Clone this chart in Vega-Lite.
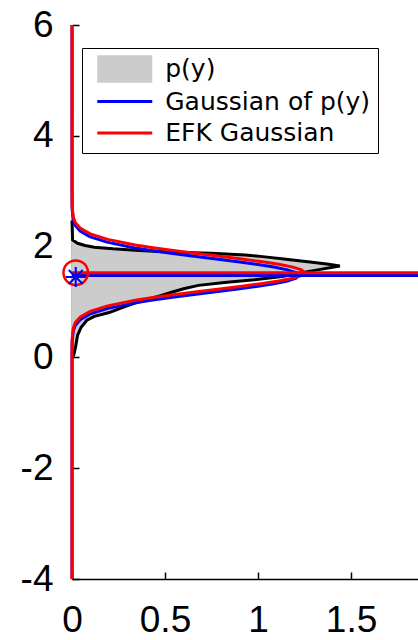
{
  "$schema": "https://vega.github.io/schema/vega-lite/v6.json",
  "width": 346,
  "height": 554,
  "autosize": {"type": "none"},
  "padding": {"left": 72, "top": 25, "right": 0, "bottom": 61},
  "background": "white",
  "config": {
    "view": {"stroke": null},
    "axis": {
      "grid": false,
      "title": null,
      "labelFont": "Liberation Sans",
      "labelFontSize": 37,
      "labelColor": "black",
      "labelFlush": false,
      "labelOverlap": false,
      "domainColor": "black",
      "domainWidth": 1.5,
      "tickColor": "black",
      "tickWidth": 1.5,
      "tickSize": -7
    },
    "legend": {
      "orient": "none",
      "legendX": 10,
      "legendY": 23,
      "direction": "vertical",
      "padding": 7,
      "strokeColor": "black",
      "fillColor": "white",
      "symbolSize": 756,
      "symbolOffset": 21.75,
      "labelOffset": 26.5,
      "rowPadding": 4.5,
      "labelFont": "DejaVu Sans",
      "labelFontSize": 25,
      "labelColor": "black",
      "labelLimit": 400,
      "symbolOpacity": 1,
      "symbolStrokeWidth": 0
    }
  },
  "datasets": {
    "curves": [
      {"s": "p(y)", "y": -0.02, "x": 0},
      {"s": "p(y)", "y": 0.05, "x": 0.01},
      {"s": "p(y)", "y": 0.2, "x": 0.02},
      {"s": "p(y)", "y": 0.4, "x": 0.03},
      {"s": "p(y)", "y": 0.55, "x": 0.05},
      {"s": "p(y)", "y": 0.67, "x": 0.08},
      {"s": "p(y)", "y": 0.74, "x": 0.12},
      {"s": "p(y)", "y": 0.81, "x": 0.2},
      {"s": "p(y)", "y": 0.9, "x": 0.27},
      {"s": "p(y)", "y": 0.97, "x": 0.33},
      {"s": "p(y)", "y": 1.05, "x": 0.41},
      {"s": "p(y)", "y": 1.12, "x": 0.48},
      {"s": "p(y)", "y": 1.18, "x": 0.54},
      {"s": "p(y)", "y": 1.24, "x": 0.6},
      {"s": "p(y)", "y": 1.3, "x": 0.68},
      {"s": "p(y)", "y": 1.35, "x": 0.82},
      {"s": "p(y)", "y": 1.4, "x": 0.98},
      {"s": "p(y)", "y": 1.46, "x": 1.13},
      {"s": "p(y)", "y": 1.52, "x": 1.22},
      {"s": "p(y)", "y": 1.58, "x": 1.32},
      {"s": "p(y)", "y": 1.65, "x": 1.44},
      {"s": "p(y)", "y": 1.68, "x": 1.38},
      {"s": "p(y)", "y": 1.72, "x": 1.28},
      {"s": "p(y)", "y": 1.77, "x": 1.15},
      {"s": "p(y)", "y": 1.81, "x": 1.05},
      {"s": "p(y)", "y": 1.85, "x": 0.93},
      {"s": "p(y)", "y": 1.88, "x": 0.75},
      {"s": "p(y)", "y": 1.9, "x": 0.55},
      {"s": "p(y)", "y": 1.93, "x": 0.36},
      {"s": "p(y)", "y": 1.96, "x": 0.22},
      {"s": "p(y)", "y": 1.99, "x": 0.12},
      {"s": "p(y)", "y": 2.02, "x": 0.07},
      {"s": "p(y)", "y": 2.06, "x": 0.03},
      {"s": "p(y)", "y": 2.12, "x": 0.003},
      {"s": "p(y)", "y": 2.47, "x": 0},

      {"s": "Gaussian of p(y)", "y": -4.0, "x": 0},
      {"s": "Gaussian of p(y)", "y": -0.02, "x": 0},
      {"s": "Gaussian of p(y)", "y": 0.28, "x": 0.0007},
      {"s": "Gaussian of p(y)", "y": 0.48, "x": 0.007},
      {"s": "Gaussian of p(y)", "y": 0.58, "x": 0.018},
      {"s": "Gaussian of p(y)", "y": 0.68, "x": 0.044},
      {"s": "Gaussian of p(y)", "y": 0.78, "x": 0.095},
      {"s": "Gaussian of p(y)", "y": 0.88, "x": 0.188},
      {"s": "Gaussian of p(y)", "y": 0.98, "x": 0.332},
      {"s": "Gaussian of p(y)", "y": 1.03, "x": 0.425},
      {"s": "Gaussian of p(y)", "y": 1.08, "x": 0.531},
      {"s": "Gaussian of p(y)", "y": 1.13, "x": 0.645},
      {"s": "Gaussian of p(y)", "y": 1.18, "x": 0.764},
      {"s": "Gaussian of p(y)", "y": 1.23, "x": 0.881},
      {"s": "Gaussian of p(y)", "y": 1.28, "x": 0.991},
      {"s": "Gaussian of p(y)", "y": 1.33, "x": 1.085},
      {"s": "Gaussian of p(y)", "y": 1.38, "x": 1.158},
      {"s": "Gaussian of p(y)", "y": 1.43, "x": 1.204},
      {"s": "Gaussian of p(y)", "y": 1.48, "x": 1.22},
      {"s": "Gaussian of p(y)", "y": 1.53, "x": 1.204},
      {"s": "Gaussian of p(y)", "y": 1.58, "x": 1.158},
      {"s": "Gaussian of p(y)", "y": 1.63, "x": 1.085},
      {"s": "Gaussian of p(y)", "y": 1.68, "x": 0.991},
      {"s": "Gaussian of p(y)", "y": 1.73, "x": 0.881},
      {"s": "Gaussian of p(y)", "y": 1.78, "x": 0.764},
      {"s": "Gaussian of p(y)", "y": 1.83, "x": 0.645},
      {"s": "Gaussian of p(y)", "y": 1.88, "x": 0.531},
      {"s": "Gaussian of p(y)", "y": 1.93, "x": 0.425},
      {"s": "Gaussian of p(y)", "y": 1.98, "x": 0.332},
      {"s": "Gaussian of p(y)", "y": 2.08, "x": 0.188},
      {"s": "Gaussian of p(y)", "y": 2.18, "x": 0.095},
      {"s": "Gaussian of p(y)", "y": 2.28, "x": 0.044},
      {"s": "Gaussian of p(y)", "y": 2.38, "x": 0.018},
      {"s": "Gaussian of p(y)", "y": 2.48, "x": 0.007},
      {"s": "Gaussian of p(y)", "y": 2.68, "x": 0.0007},
      {"s": "Gaussian of p(y)", "y": 2.98, "x": 0},
      {"s": "Gaussian of p(y)", "y": 6.0, "x": 0},

      {"s": "EFK Gaussian", "y": -4.0, "x": 0},
      {"s": "EFK Gaussian", "y": 0.03, "x": 0},
      {"s": "EFK Gaussian", "y": 0.33, "x": 0.0007},
      {"s": "EFK Gaussian", "y": 0.53, "x": 0.007},
      {"s": "EFK Gaussian", "y": 0.63, "x": 0.018},
      {"s": "EFK Gaussian", "y": 0.73, "x": 0.045},
      {"s": "EFK Gaussian", "y": 0.83, "x": 0.098},
      {"s": "EFK Gaussian", "y": 0.93, "x": 0.192},
      {"s": "EFK Gaussian", "y": 1.03, "x": 0.34},
      {"s": "EFK Gaussian", "y": 1.08, "x": 0.436},
      {"s": "EFK Gaussian", "y": 1.13, "x": 0.544},
      {"s": "EFK Gaussian", "y": 1.18, "x": 0.661},
      {"s": "EFK Gaussian", "y": 1.23, "x": 0.783},
      {"s": "EFK Gaussian", "y": 1.28, "x": 0.903},
      {"s": "EFK Gaussian", "y": 1.33, "x": 1.015},
      {"s": "EFK Gaussian", "y": 1.38, "x": 1.112},
      {"s": "EFK Gaussian", "y": 1.43, "x": 1.187},
      {"s": "EFK Gaussian", "y": 1.48, "x": 1.234},
      {"s": "EFK Gaussian", "y": 1.53, "x": 1.25},
      {"s": "EFK Gaussian", "y": 1.58, "x": 1.234},
      {"s": "EFK Gaussian", "y": 1.63, "x": 1.187},
      {"s": "EFK Gaussian", "y": 1.68, "x": 1.112},
      {"s": "EFK Gaussian", "y": 1.73, "x": 1.015},
      {"s": "EFK Gaussian", "y": 1.78, "x": 0.903},
      {"s": "EFK Gaussian", "y": 1.83, "x": 0.783},
      {"s": "EFK Gaussian", "y": 1.88, "x": 0.661},
      {"s": "EFK Gaussian", "y": 1.93, "x": 0.544},
      {"s": "EFK Gaussian", "y": 1.98, "x": 0.436},
      {"s": "EFK Gaussian", "y": 2.03, "x": 0.34},
      {"s": "EFK Gaussian", "y": 2.13, "x": 0.192},
      {"s": "EFK Gaussian", "y": 2.23, "x": 0.098},
      {"s": "EFK Gaussian", "y": 2.33, "x": 0.045},
      {"s": "EFK Gaussian", "y": 2.43, "x": 0.018},
      {"s": "EFK Gaussian", "y": 2.53, "x": 0.007},
      {"s": "EFK Gaussian", "y": 2.73, "x": 0.0007},
      {"s": "EFK Gaussian", "y": 3.03, "x": 0},
      {"s": "EFK Gaussian", "y": 6.0, "x": 0}
    ],
    "means": [
      {"s": "Gaussian of p(y)", "y": 1.48, "x0": 0, "x1": 2},
      {"s": "EFK Gaussian", "y": 1.53, "x0": 0, "x1": 2}
    ],
    "markers": [
      {"s": "EFK Gaussian", "y": 1.53, "x": 0.02},
      {"s": "Gaussian of p(y)", "y": 1.45, "x": 0.02}
    ]
  },
  "layer": [
    {
      "data": {"name": "curves"},
      "transform": [{"filter": "datum.s === 'p(y)'"}],
      "mark": {"type": "area", "orient": "horizontal", "opacity": 1},
      "encoding": {
        "y": {
          "field": "y",
          "type": "quantitative",
          "scale": {"domain": [-4, 6], "nice": false, "zero": false},
          "axis": {"values": [-4, -2, 0, 2, 4, 6], "labelPadding": 26, "labelExpr": "'' + datum.value"}
        },
        "x": {
          "field": "x",
          "type": "quantitative",
          "scale": {"domain": [0, 1.86], "nice": false},
          "axis": {"values": [0, 0.5, 1, 1.5], "labelPadding": 30, "labelExpr": "'' + datum.value"}
        },
        "color": {
          "field": "s",
          "type": "nominal",
          "title": null,
          "scale": {
            "domain": ["p(y)", "Gaussian of p(y)", "EFK Gaussian"],
            "range": ["#cccccc", "#0000ff", "#ff0000"]
          }
        }
      }
    },
    {
      "data": {"name": "curves"},
      "transform": [{"filter": "datum.s === 'p(y)'"}],
      "mark": {"type": "line", "color": "black", "strokeWidth": 3},
      "encoding": {
        "y": {"field": "y", "type": "quantitative"},
        "x": {"field": "x", "type": "quantitative"},
        "order": {"field": "y", "type": "quantitative"}
      }
    },
    {
      "data": {"name": "curves"},
      "transform": [{"filter": "datum.s === 'Gaussian of p(y)'"}],
      "mark": {"type": "line", "strokeWidth": 3},
      "encoding": {
        "y": {"field": "y", "type": "quantitative"},
        "x": {"field": "x", "type": "quantitative"},
        "order": {"field": "y", "type": "quantitative"},
        "color": {"field": "s", "type": "nominal", "title": null}
      }
    },
    {
      "data": {"name": "curves"},
      "transform": [{"filter": "datum.s === 'EFK Gaussian'"}],
      "mark": {"type": "line", "strokeWidth": 3},
      "encoding": {
        "y": {"field": "y", "type": "quantitative"},
        "x": {"field": "x", "type": "quantitative"},
        "order": {"field": "y", "type": "quantitative"},
        "color": {"field": "s", "type": "nominal", "title": null}
      }
    },
    {
      "data": {"name": "curves"},
      "transform": [{"filter": "false"}],
      "mark": {"type": "point", "filled": true, "opacity": 1},
      "encoding": {
        "y": {"field": "y", "type": "quantitative"},
        "x": {"field": "x", "type": "quantitative"},
        "color": {"field": "s", "type": "nominal", "title": null},
        "shape": {
          "field": "s",
          "type": "nominal",
          "title": null,
          "scale": {
            "domain": ["p(y)", "Gaussian of p(y)", "EFK Gaussian"],
            "range": ["M-2,-1H2V1H-2Z", "M-2,-0.11H2V0.11H-2Z", "M-2,-0.11H2V0.11H-2Z"]
          }
        }
      }
    },
    {
      "data": {"name": "means"},
      "transform": [{"filter": "datum.s === 'Gaussian of p(y)'"}],
      "mark": {"type": "rule", "strokeWidth": 3, "clip": true, "color": "#0000ff"},
      "encoding": {
        "y": {"field": "y", "type": "quantitative"},
        "x": {"field": "x0", "type": "quantitative"},
        "x2": {"field": "x1"}
      }
    },
    {
      "data": {"name": "means"},
      "transform": [{"filter": "datum.s === 'EFK Gaussian'"}],
      "mark": {"type": "rule", "strokeWidth": 3, "clip": true, "color": "#ff0000"},
      "encoding": {
        "y": {"field": "y", "type": "quantitative"},
        "x": {"field": "x0", "type": "quantitative"},
        "x2": {"field": "x1"}
      }
    },
    {
      "data": {"name": "markers"},
      "transform": [{"filter": "datum.s === 'EFK Gaussian'"}],
      "mark": {"type": "point", "shape": "circle", "filled": false, "size": 600, "strokeWidth": 2.5, "opacity": 1, "color": "#ff0000"},
      "encoding": {
        "y": {"field": "y", "type": "quantitative"},
        "x": {"field": "x", "type": "quantitative"}
      }
    },
    {
      "data": {"name": "markers"},
      "transform": [{"filter": "datum.s === 'Gaussian of p(y)'"}],
      "mark": {"type": "point", "shape": "M-1,0L1,0M0,-1L0,1M-0.7,-0.7L0.7,0.7M-0.7,0.7L0.7,-0.7", "filled": false, "size": 400, "strokeWidth": 2, "opacity": 1, "color": "#0000ff"},
      "encoding": {
        "y": {"field": "y", "type": "quantitative"},
        "x": {"field": "x", "type": "quantitative"}
      }
    }
  ]
}
